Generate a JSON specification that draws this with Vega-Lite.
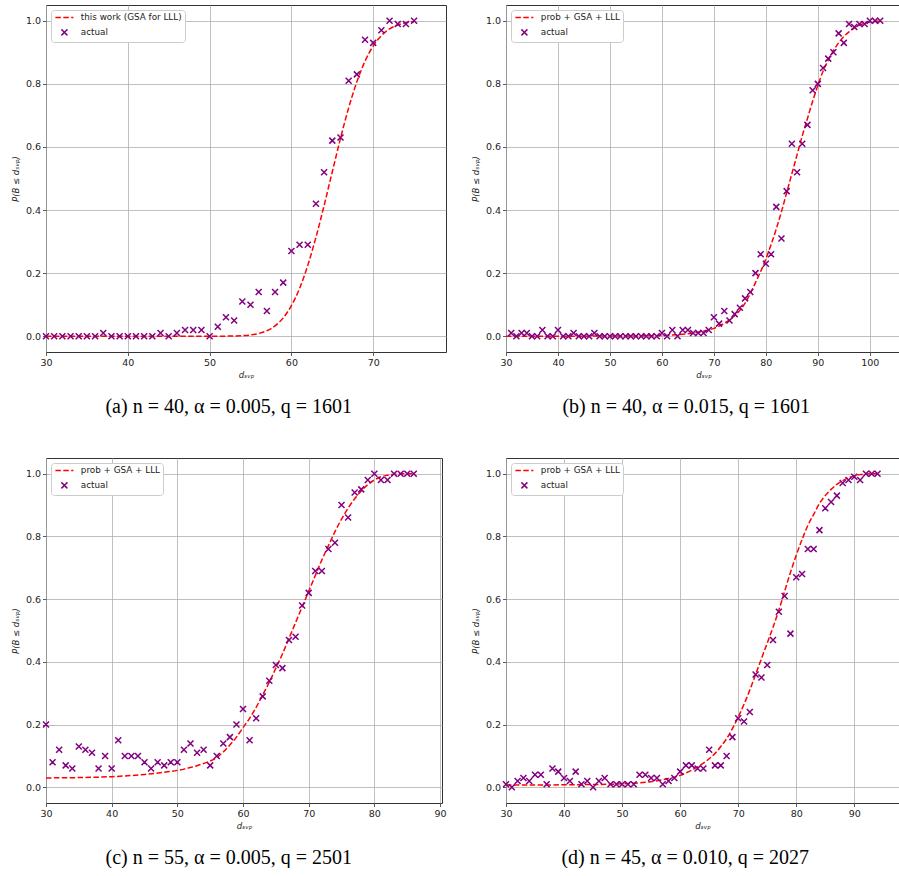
{
  "$schema": "https://vega.github.io/schema/vega-lite/v6.json",
  "background": "white",
  "padding": {"left": 10, "top": 4, "right": 0, "bottom": 0},
  "autosize": {"type": "pad"},
  "datasets": {
    "a_pts": [{"d":30,"p":0},{"d":31,"p":0},{"d":32,"p":0},{"d":33,"p":0},{"d":34,"p":0},{"d":35,"p":0},{"d":36,"p":0},{"d":37,"p":0.01},{"d":38,"p":0},{"d":39,"p":0},{"d":40,"p":0},{"d":41,"p":0},{"d":42,"p":0},{"d":43,"p":0},{"d":44,"p":0.01},{"d":45,"p":0},{"d":46,"p":0.01},{"d":47,"p":0.02},{"d":48,"p":0.02},{"d":49,"p":0.02},{"d":50,"p":0},{"d":51,"p":0.03},{"d":52,"p":0.06},{"d":53,"p":0.05},{"d":54,"p":0.11},{"d":55,"p":0.10},{"d":56,"p":0.14},{"d":57,"p":0.08},{"d":58,"p":0.14},{"d":59,"p":0.17},{"d":60,"p":0.27},{"d":61,"p":0.29},{"d":62,"p":0.29},{"d":63,"p":0.42},{"d":64,"p":0.52},{"d":65,"p":0.62},{"d":66,"p":0.63},{"d":67,"p":0.81},{"d":68,"p":0.83},{"d":69,"p":0.94},{"d":70,"p":0.93},{"d":71,"p":0.97},{"d":72,"p":1.0},{"d":73,"p":0.99},{"d":74,"p":0.99},{"d":75,"p":1.0}],
    "a_fit": [{"d":30,"p":0},{"d":45,"p":0},{"d":50,"p":0},{"d":51,"p":0.0001},{"d":52,"p":0.0003},{"d":53,"p":0.0007},{"d":54,"p":0.0018},{"d":55,"p":0.004},{"d":56,"p":0.0087},{"d":57,"p":0.0174},{"d":58,"p":0.0329},{"d":59,"p":0.0582},{"d":60,"p":0.0968},{"d":61,"p":0.1515},{"d":62,"p":0.2246},{"d":63,"p":0.3134},{"d":64,"p":0.4144},{"d":65,"p":0.5215},{"d":66,"p":0.6271},{"d":67,"p":0.724},{"d":68,"p":0.8065},{"d":69,"p":0.8718},{"d":70,"p":0.92},{"d":71,"p":0.9531},{"d":72,"p":0.9742},{"d":73,"p":0.9867},{"d":74,"p":0.9935},{"d":75,"p":0.9971}],
    "b_pts": [{"d":31,"p":0.01},{"d":32,"p":0},{"d":33,"p":0.01},{"d":34,"p":0.01},{"d":35,"p":0},{"d":36,"p":0},{"d":37,"p":0.02},{"d":38,"p":0},{"d":39,"p":0},{"d":40,"p":0.02},{"d":41,"p":0},{"d":42,"p":0},{"d":43,"p":0.01},{"d":44,"p":0},{"d":45,"p":0},{"d":46,"p":0},{"d":47,"p":0.01},{"d":48,"p":0},{"d":49,"p":0},{"d":50,"p":0},{"d":51,"p":0},{"d":52,"p":0},{"d":53,"p":0},{"d":54,"p":0},{"d":55,"p":0},{"d":56,"p":0},{"d":57,"p":0},{"d":58,"p":0},{"d":59,"p":0},{"d":60,"p":0.01},{"d":61,"p":0},{"d":62,"p":0.02},{"d":63,"p":0},{"d":64,"p":0.02},{"d":65,"p":0.02},{"d":66,"p":0.01},{"d":67,"p":0.01},{"d":68,"p":0.01},{"d":69,"p":0.02},{"d":70,"p":0.06},{"d":71,"p":0.04},{"d":72,"p":0.08},{"d":73,"p":0.05},{"d":74,"p":0.07},{"d":75,"p":0.09},{"d":76,"p":0.12},{"d":77,"p":0.14},{"d":78,"p":0.20},{"d":79,"p":0.26},{"d":80,"p":0.23},{"d":81,"p":0.26},{"d":82,"p":0.41},{"d":83,"p":0.31},{"d":84,"p":0.46},{"d":85,"p":0.61},{"d":86,"p":0.52},{"d":87,"p":0.61},{"d":88,"p":0.67},{"d":89,"p":0.78},{"d":90,"p":0.80},{"d":91,"p":0.85},{"d":92,"p":0.88},{"d":93,"p":0.90},{"d":94,"p":0.96},{"d":95,"p":0.93},{"d":96,"p":0.99},{"d":97,"p":0.98},{"d":98,"p":0.99},{"d":99,"p":0.99},{"d":100,"p":1.0},{"d":101,"p":1.0},{"d":102,"p":1.0}],
    "b_fit": [{"d":30,"p":0},{"d":50,"p":0.0005},{"d":55,"p":0.001},{"d":60,"p":0.002},{"d":62,"p":0.004},{"d":64,"p":0.006},{"d":66,"p":0.01},{"d":68,"p":0.016},{"d":70,"p":0.025},{"d":71,"p":0.032},{"d":72,"p":0.041},{"d":73,"p":0.052},{"d":74,"p":0.065},{"d":75,"p":0.082},{"d":76,"p":0.105},{"d":77,"p":0.135},{"d":78,"p":0.17},{"d":79,"p":0.205},{"d":80,"p":0.245},{"d":81,"p":0.29},{"d":82,"p":0.34},{"d":83,"p":0.395},{"d":84,"p":0.455},{"d":85,"p":0.515},{"d":86,"p":0.575},{"d":87,"p":0.635},{"d":88,"p":0.69},{"d":89,"p":0.745},{"d":90,"p":0.795},{"d":91,"p":0.84},{"d":92,"p":0.875},{"d":93,"p":0.905},{"d":94,"p":0.93},{"d":95,"p":0.95},{"d":96,"p":0.965},{"d":97,"p":0.977},{"d":98,"p":0.986},{"d":99,"p":0.992},{"d":100,"p":0.996},{"d":101,"p":0.998},{"d":102,"p":1.0}],
    "c_pts": [{"d":30,"p":0.20},{"d":31,"p":0.08},{"d":32,"p":0.12},{"d":33,"p":0.07},{"d":34,"p":0.06},{"d":35,"p":0.13},{"d":36,"p":0.12},{"d":37,"p":0.11},{"d":38,"p":0.06},{"d":39,"p":0.10},{"d":40,"p":0.06},{"d":41,"p":0.15},{"d":42,"p":0.10},{"d":43,"p":0.10},{"d":44,"p":0.10},{"d":45,"p":0.08},{"d":46,"p":0.06},{"d":47,"p":0.08},{"d":48,"p":0.07},{"d":49,"p":0.08},{"d":50,"p":0.08},{"d":51,"p":0.12},{"d":52,"p":0.14},{"d":53,"p":0.11},{"d":54,"p":0.12},{"d":55,"p":0.07},{"d":56,"p":0.10},{"d":57,"p":0.14},{"d":58,"p":0.16},{"d":59,"p":0.20},{"d":60,"p":0.25},{"d":61,"p":0.15},{"d":62,"p":0.22},{"d":63,"p":0.29},{"d":64,"p":0.34},{"d":65,"p":0.39},{"d":66,"p":0.38},{"d":67,"p":0.47},{"d":68,"p":0.48},{"d":69,"p":0.58},{"d":70,"p":0.62},{"d":71,"p":0.69},{"d":72,"p":0.69},{"d":73,"p":0.76},{"d":74,"p":0.78},{"d":75,"p":0.90},{"d":76,"p":0.86},{"d":77,"p":0.94},{"d":78,"p":0.95},{"d":79,"p":0.98},{"d":80,"p":1.0},{"d":81,"p":0.98},{"d":82,"p":0.98},{"d":83,"p":1.0},{"d":84,"p":1.0},{"d":85,"p":1.0},{"d":86,"p":1.0}],
    "c_fit": [{"d":30,"p":0.030},{"d":35,"p":0.031},{"d":40,"p":0.034},{"d":45,"p":0.041},{"d":48,"p":0.048},{"d":50,"p":0.054},{"d":51,"p":0.058},{"d":52,"p":0.063},{"d":53,"p":0.069},{"d":54,"p":0.076},{"d":55,"p":0.084},{"d":56,"p":0.095},{"d":57,"p":0.113},{"d":58,"p":0.135},{"d":59,"p":0.16},{"d":60,"p":0.19},{"d":61,"p":0.22},{"d":62,"p":0.255},{"d":63,"p":0.295},{"d":64,"p":0.335},{"d":65,"p":0.38},{"d":66,"p":0.425},{"d":67,"p":0.475},{"d":68,"p":0.525},{"d":69,"p":0.575},{"d":70,"p":0.625},{"d":71,"p":0.675},{"d":72,"p":0.725},{"d":73,"p":0.77},{"d":74,"p":0.815},{"d":75,"p":0.855},{"d":76,"p":0.89},{"d":77,"p":0.92},{"d":78,"p":0.945},{"d":79,"p":0.965},{"d":80,"p":0.98},{"d":81,"p":0.99},{"d":82,"p":0.995},{"d":83,"p":0.998},{"d":84,"p":1.0},{"d":86,"p":1.0}],
    "d_pts": [{"d":30,"p":0.01},{"d":31,"p":0},{"d":32,"p":0.02},{"d":33,"p":0.03},{"d":34,"p":0.02},{"d":35,"p":0.04},{"d":36,"p":0.04},{"d":37,"p":0.01},{"d":38,"p":0.06},{"d":39,"p":0.05},{"d":40,"p":0.03},{"d":41,"p":0.02},{"d":42,"p":0.05},{"d":43,"p":0.01},{"d":44,"p":0.02},{"d":45,"p":0},{"d":46,"p":0.02},{"d":47,"p":0.03},{"d":48,"p":0.01},{"d":49,"p":0.01},{"d":50,"p":0.01},{"d":51,"p":0.01},{"d":52,"p":0.01},{"d":53,"p":0.04},{"d":54,"p":0.04},{"d":55,"p":0.03},{"d":56,"p":0.03},{"d":57,"p":0.01},{"d":58,"p":0.02},{"d":59,"p":0.03},{"d":60,"p":0.05},{"d":61,"p":0.07},{"d":62,"p":0.07},{"d":63,"p":0.06},{"d":64,"p":0.06},{"d":65,"p":0.12},{"d":66,"p":0.07},{"d":67,"p":0.07},{"d":68,"p":0.10},{"d":69,"p":0.16},{"d":70,"p":0.22},{"d":71,"p":0.21},{"d":72,"p":0.24},{"d":73,"p":0.36},{"d":74,"p":0.35},{"d":75,"p":0.39},{"d":76,"p":0.47},{"d":77,"p":0.56},{"d":78,"p":0.61},{"d":79,"p":0.49},{"d":80,"p":0.67},{"d":81,"p":0.68},{"d":82,"p":0.76},{"d":83,"p":0.76},{"d":84,"p":0.82},{"d":85,"p":0.89},{"d":86,"p":0.91},{"d":87,"p":0.93},{"d":88,"p":0.97},{"d":89,"p":0.98},{"d":90,"p":0.99},{"d":91,"p":0.98},{"d":92,"p":1.0},{"d":93,"p":1.0},{"d":94,"p":1.0}],
    "d_fit": [{"d":30,"p":0.007},{"d":40,"p":0.008},{"d":45,"p":0.009},{"d":50,"p":0.011},{"d":52,"p":0.013},{"d":54,"p":0.016},{"d":56,"p":0.021},{"d":58,"p":0.028},{"d":60,"p":0.038},{"d":61,"p":0.046},{"d":62,"p":0.055},{"d":63,"p":0.065},{"d":64,"p":0.077},{"d":65,"p":0.091},{"d":66,"p":0.108},{"d":67,"p":0.13},{"d":68,"p":0.155},{"d":69,"p":0.187},{"d":70,"p":0.224},{"d":71,"p":0.265},{"d":72,"p":0.31},{"d":73,"p":0.36},{"d":74,"p":0.41},{"d":75,"p":0.46},{"d":76,"p":0.51},{"d":77,"p":0.565},{"d":78,"p":0.625},{"d":79,"p":0.685},{"d":80,"p":0.74},{"d":81,"p":0.79},{"d":82,"p":0.835},{"d":83,"p":0.87},{"d":84,"p":0.905},{"d":85,"p":0.93},{"d":86,"p":0.95},{"d":87,"p":0.966},{"d":88,"p":0.978},{"d":89,"p":0.987},{"d":90,"p":0.993},{"d":91,"p":0.997},{"d":92,"p":0.999},{"d":93,"p":1.0},{"d":94,"p":1.0}]
  },
  "config": {
    "font": "DejaVu Sans",
    "view": {"stroke": "#333333", "strokeWidth": 1},
    "axis": {"domain": false, "grid": true, "gridColor": "#b0b0b0", "gridWidth": 0.8, "tickColor": "#333333", "tickSize": 3.5, "tickWidth": 0.8, "labelFont": "DejaVu Sans", "labelFontSize": 9.5, "labelColor": "#222222", "labelPadding": 2, "titleFont": "DejaVu Sans", "titleFontSize": 8.5, "titleFontWeight": "normal", "titleFontStyle": "italic", "titleColor": "#222222", "titlePadding": 3, "labelFlush": false, "labelOverlap": false},
    "axisY": {"titlePadding": 5},
    "legend": {
      "orient": "top-left", "offset": 5, "title": null,
      "fillColor": "white", "strokeColor": "#cccccc", "cornerRadius": 3, "padding": 3,
      "labelFont": "DejaVu Sans", "labelFontSize": 8.8, "labelColor": "#222222",
      "symbolSize": 36, "symbolOffset": 6, "labelOffset": 12, "rowPadding": 3
    },
    "title": {"font": "Liberation Serif", "fontSize": 20, "fontWeight": "normal", "color": "#000000", "orient": "bottom", "anchor": "middle", "frame": "bounds", "offset": 18}
  },
  "spacing": 40,
  "resolve": {"scale": {"color": "independent"}, "legend": {"color": "independent"}},
  "vconcat": [
    {
      "spacing": 23,
      "resolve": {"scale": {"color": "independent"}, "legend": {"color": "independent"}},
      "hconcat": [
        {
          "width": 400, "height": 347,
          "title": {"text": "(a) n = 40, α = 0.005, q = 1601"},
          "layer": [
            {
              "data": {"name": "a_fit"},
              "mark": {"type": "line", "strokeDash": [5.5, 2.4], "strokeWidth": 1.5, "interpolate": "monotone"},
              "encoding": {
                "x": {"field": "d", "type": "quantitative", "scale": {"domain": [30, 78.9], "nice": false, "zero": false}, "axis": {"values": [30, 40, 50, 60, 70], "title": "dₛᵥₚ"}},
                "y": {"field": "p", "type": "quantitative", "scale": {"domain": [-0.05, 1.05], "nice": false, "zero": false}, "axis": {"values": [0, 0.2, 0.4, 0.6, 0.8, 1], "format": ".1f", "title": "P(B ≤ dₛᵥₚ)"}},
                "color": {"datum": "this work (GSA for LLL)", "scale": {"domain": ["this work (GSA for LLL)", "actual"], "range": ["#ff0000", "#800080"]},
                  "legend": {"symbolType": "stroke", "encode": {"symbols": {"update": {
                    "shape": {"signal": "datum.value === 'actual' ? 'M-1,-1L1,1M1,-1L-1,1' : 'M-3,0L3,0'"},
                    "size": {"value": 36},
                    "strokeDash": {"signal": "datum.value === 'actual' ? [1, 0] : [5.5, 2.4]"},
                    "strokeWidth": {"value": 1.5},
                    "fill": {"value": "transparent"},
                    "opacity": {"value": 1}
                  }}}}}
              }
            },
            {
              "data": {"name": "a_pts"},
              "mark": {"type": "point", "shape": "M-1,-1L1,1M1,-1L-1,1", "filled": false, "strokeWidth": 1.5, "size": 36, "opacity": 1},
              "encoding": {
                "x": {"field": "d", "type": "quantitative"},
                "y": {"field": "p", "type": "quantitative"},
                "color": {"datum": "actual"}
              }
            }
          ]
        },
        {
          "width": 395, "height": 347,
          "title": {"text": "(b) n = 40, α = 0.015, q = 1601"},
          "layer": [
            {
              "data": {"name": "b_fit"},
              "mark": {"type": "line", "strokeDash": [5.5, 2.4], "strokeWidth": 1.5, "interpolate": "monotone"},
              "encoding": {
                "x": {"field": "d", "type": "quantitative", "scale": {"domain": [30, 106], "nice": false, "zero": false}, "axis": {"values": [30, 40, 50, 60, 70, 80, 90, 100], "title": "dₛᵥₚ"}},
                "y": {"field": "p", "type": "quantitative", "scale": {"domain": [-0.05, 1.05], "nice": false, "zero": false}, "axis": {"values": [0, 0.2, 0.4, 0.6, 0.8, 1], "format": ".1f", "title": "P(B ≤ dₛᵥₚ)"}},
                "color": {"datum": "prob + GSA + LLL", "scale": {"domain": ["prob + GSA + LLL", "actual"], "range": ["#ff0000", "#800080"]},
                  "legend": {"symbolType": "stroke", "encode": {"symbols": {"update": {
                    "shape": {"signal": "datum.value === 'actual' ? 'M-1,-1L1,1M1,-1L-1,1' : 'M-3,0L3,0'"},
                    "size": {"value": 36},
                    "strokeDash": {"signal": "datum.value === 'actual' ? [1, 0] : [5.5, 2.4]"},
                    "strokeWidth": {"value": 1.5},
                    "fill": {"value": "transparent"},
                    "opacity": {"value": 1}
                  }}}}}
              }
            },
            {
              "data": {"name": "b_pts"},
              "mark": {"type": "point", "shape": "M-1,-1L1,1M1,-1L-1,1", "filled": false, "strokeWidth": 1.5, "size": 36, "opacity": 1},
              "encoding": {
                "x": {"field": "d", "type": "quantitative"},
                "y": {"field": "p", "type": "quantitative"},
                "color": {"datum": "actual"}
              }
            }
          ]
        }
      ]
    },
    {
      "spacing": 23,
      "resolve": {"scale": {"color": "independent"}, "legend": {"color": "independent"}},
      "hconcat": [
        {
          "width": 396, "height": 345,
          "title": {"text": "(c) n = 55, α = 0.005, q = 2501"},
          "layer": [
            {
              "data": {"name": "c_fit"},
              "mark": {"type": "line", "strokeDash": [5.5, 2.4], "strokeWidth": 1.5, "interpolate": "monotone"},
              "encoding": {
                "x": {"field": "d", "type": "quantitative", "scale": {"domain": [30, 90.3], "nice": false, "zero": false}, "axis": {"values": [30, 40, 50, 60, 70, 80, 90], "title": "dₛᵥₚ"}},
                "y": {"field": "p", "type": "quantitative", "scale": {"domain": [-0.05, 1.05], "nice": false, "zero": false}, "axis": {"values": [0, 0.2, 0.4, 0.6, 0.8, 1], "format": ".1f", "title": "P(B ≤ dₛᵥₚ)"}},
                "color": {"datum": "prob + GSA + LLL", "scale": {"domain": ["prob + GSA + LLL", "actual"], "range": ["#ff0000", "#800080"]},
                  "legend": {"symbolType": "stroke", "encode": {"symbols": {"update": {
                    "shape": {"signal": "datum.value === 'actual' ? 'M-1,-1L1,1M1,-1L-1,1' : 'M-3,0L3,0'"},
                    "size": {"value": 36},
                    "strokeDash": {"signal": "datum.value === 'actual' ? [1, 0] : [5.5, 2.4]"},
                    "strokeWidth": {"value": 1.5},
                    "fill": {"value": "transparent"},
                    "opacity": {"value": 1}
                  }}}}}
              }
            },
            {
              "data": {"name": "c_pts"},
              "mark": {"type": "point", "shape": "M-1,-1L1,1M1,-1L-1,1", "filled": false, "strokeWidth": 1.5, "size": 36, "opacity": 1},
              "encoding": {
                "x": {"field": "d", "type": "quantitative"},
                "y": {"field": "p", "type": "quantitative"},
                "color": {"datum": "actual"}
              }
            }
          ]
        },
        {
          "width": 393, "height": 345,
          "title": {"text": "(d) n = 45, α = 0.010, q = 2027"},
          "layer": [
            {
              "data": {"name": "d_fit"},
              "mark": {"type": "line", "strokeDash": [5.5, 2.4], "strokeWidth": 1.5, "interpolate": "monotone"},
              "encoding": {
                "x": {"field": "d", "type": "quantitative", "scale": {"domain": [30, 97.7], "nice": false, "zero": false}, "axis": {"values": [30, 40, 50, 60, 70, 80, 90], "title": "dₛᵥₚ"}},
                "y": {"field": "p", "type": "quantitative", "scale": {"domain": [-0.05, 1.05], "nice": false, "zero": false}, "axis": {"values": [0, 0.2, 0.4, 0.6, 0.8, 1], "format": ".1f", "title": "P(B ≤ dₛᵥₚ)"}},
                "color": {"datum": "prob + GSA + LLL", "scale": {"domain": ["prob + GSA + LLL", "actual"], "range": ["#ff0000", "#800080"]},
                  "legend": {"symbolType": "stroke", "encode": {"symbols": {"update": {
                    "shape": {"signal": "datum.value === 'actual' ? 'M-1,-1L1,1M1,-1L-1,1' : 'M-3,0L3,0'"},
                    "size": {"value": 36},
                    "strokeDash": {"signal": "datum.value === 'actual' ? [1, 0] : [5.5, 2.4]"},
                    "strokeWidth": {"value": 1.5},
                    "fill": {"value": "transparent"},
                    "opacity": {"value": 1}
                  }}}}}
              }
            },
            {
              "data": {"name": "d_pts"},
              "mark": {"type": "point", "shape": "M-1,-1L1,1M1,-1L-1,1", "filled": false, "strokeWidth": 1.5, "size": 36, "opacity": 1},
              "encoding": {
                "x": {"field": "d", "type": "quantitative"},
                "y": {"field": "p", "type": "quantitative"},
                "color": {"datum": "actual"}
              }
            }
          ]
        }
      ]
    }
  ]
}
